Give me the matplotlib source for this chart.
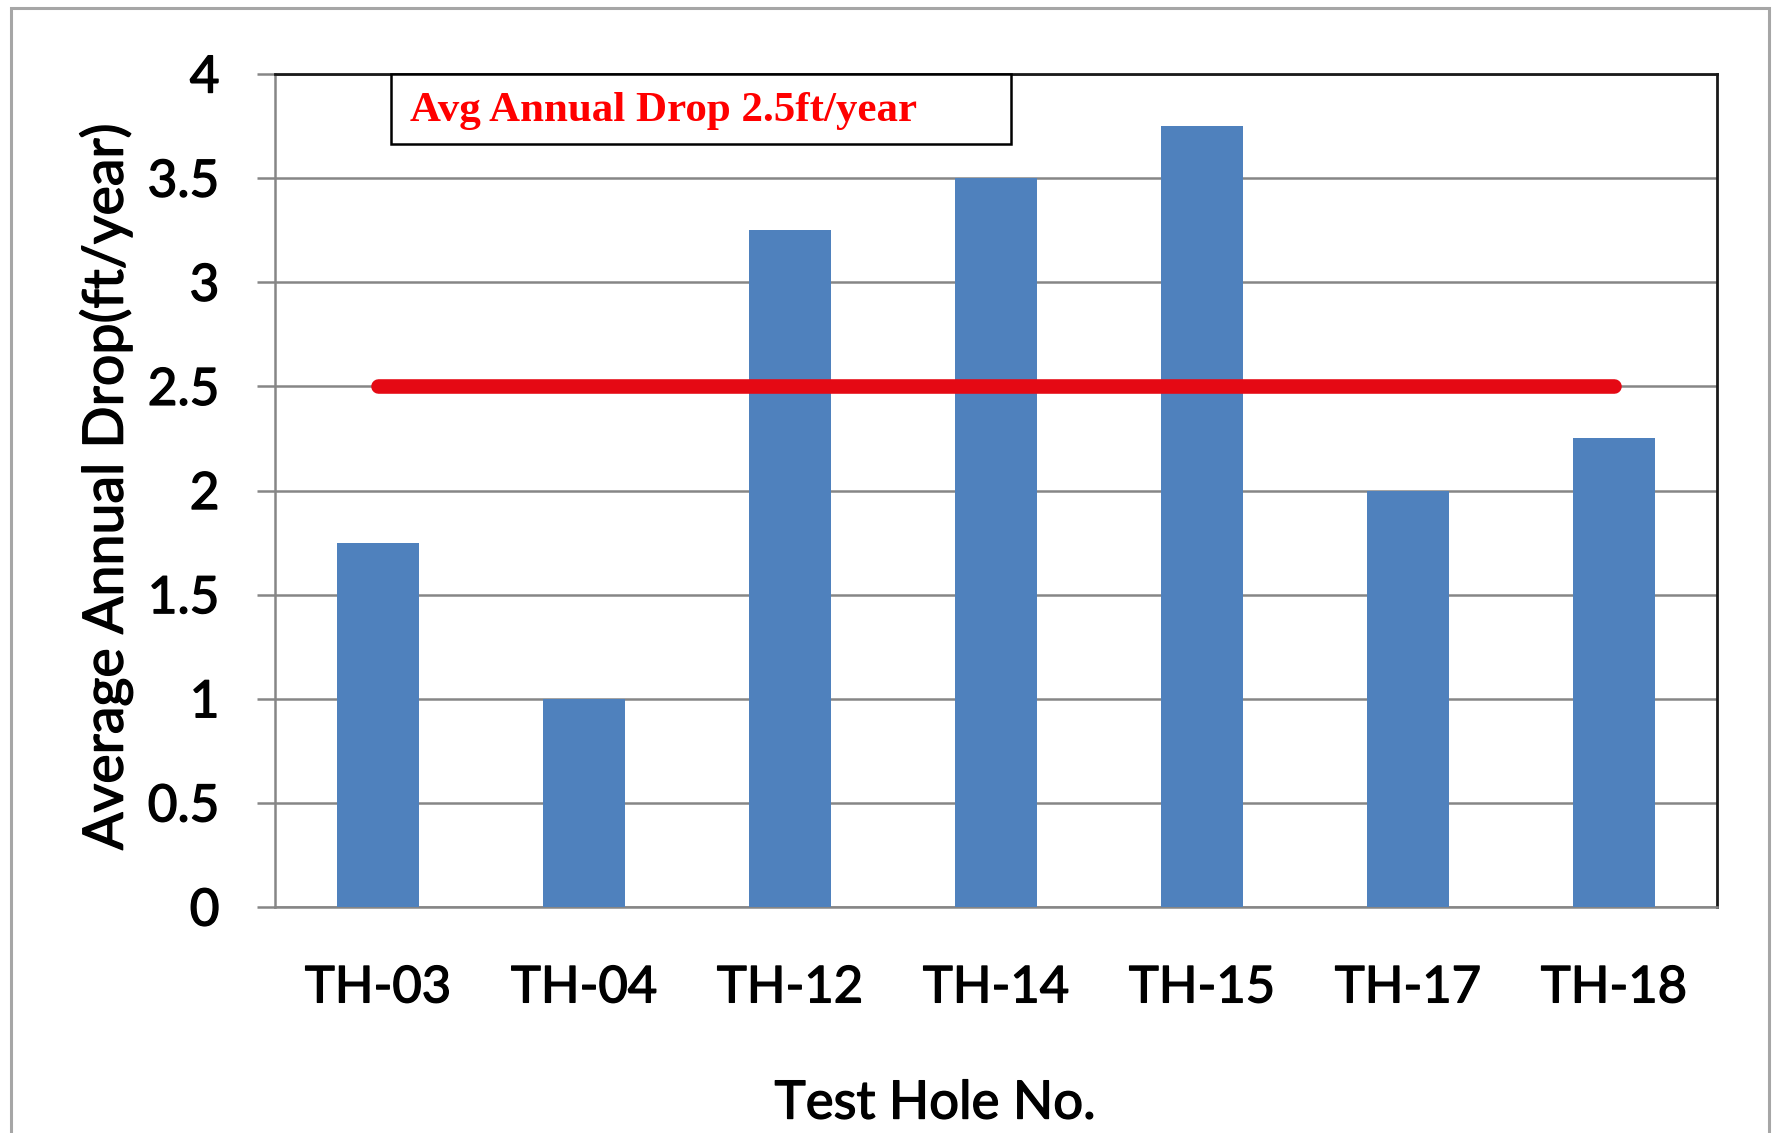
import matplotlib
matplotlib.use("Agg")
import matplotlib.pyplot as plt
import matplotlib.patheffects as pe
from matplotlib.patches import Rectangle

# Data
holes = ["TH-03", "TH-04", "TH-12", "TH-14", "TH-15", "TH-17", "TH-18"]
annual_drop = [1.75, 1.0, 3.25, 3.5, 3.75, 2.0, 2.25]
avg_drop = 2.5
y_ticks = [0, 0.5, 1, 1.5, 2, 2.5, 3, 3.5, 4]
y_tick_labels = ["0", "0.5", "1", "1.5", "2", "2.5", "3", "3.5", "4"]

W, H, DPI = 1775, 1133, 100
fig = plt.figure(figsize=(W / DPI, H / DPI), dpi=DPI, facecolor="white")

# Outer chart-area frame (open at the bottom edge)
fig.patches.append(Rectangle((11 / W, -0.05), (1769 - 11) / W, 1.05 - 8 / H,
                             transform=fig.transFigure, fill=False,
                             edgecolor="#a6a6a6", linewidth=2.2))

left, right, top, bottom = 275, 1717, 74, 907
ax = fig.add_axes([left / W, 1 - bottom / H, (right - left) / W, (bottom - top) / H])

sans = "Lato"
heavy = [pe.withStroke(linewidth=1.0, foreground="black")]
grid_col = "#868686"

x = list(range(len(holes)))
ax.bar(x, annual_drop, width=0.4, color="#4F81BD", zorder=3)
ax.plot([0, len(holes) - 1], [avg_drop, avg_drop], color="#E50914",
        linewidth=10.5, solid_capstyle="round", zorder=4)

ax.set_xlim(-0.5, len(holes) - 0.5)
ax.set_ylim(0, 4)
ax.set_yticks(y_ticks)
ax.set_yticklabels(y_tick_labels, fontfamily=sans, fontsize=37, path_effects=heavy)
ax.set_xticks(x)
ax.set_xticklabels(holes, fontfamily=sans, fontsize=36.5, path_effects=heavy)
ax.tick_params(axis="y", length=13, width=1.8, color=grid_col, pad=27)
ax.tick_params(axis="x", length=0, pad=42)

ax.yaxis.grid(True, color=grid_col, linewidth=1.8, zorder=1)
ax.set_axisbelow(True)

for s in ("top", "right"):
    ax.spines[s].set_color("#1a1a1a")
    ax.spines[s].set_linewidth(2.0)
for s in ("left", "bottom"):
    ax.spines[s].set_color(grid_col)
    ax.spines[s].set_linewidth(1.8)

fig.text(106 / W, 1 - 487 / H, "Average Annual Drop(ft/year)", rotation=90,
         ha="center", va="center", fontfamily=sans, fontsize=40, path_effects=heavy)
fig.text(935 / W, 1 - 1104 / H, "Test Hole No.", ha="center", va="center",
         fontfamily=sans, fontsize=38, path_effects=heavy)

# Annotation box for the average line
fig.patches.append(Rectangle((391 / W, 1 - 144 / H), (1011 - 391) / W, (144 - 74) / H,
                             transform=fig.transFigure, facecolor="white",
                             edgecolor="black", linewidth=1.8, zorder=5))
fig.text(410 / W, 1 - 111 / H, "Avg Annual Drop 2.5ft/year", ha="left", va="center",
         fontfamily="Liberation Serif", fontweight="bold", fontsize=31,
         color="#FF0000", zorder=6)

fig.savefig("out.png", dpi=DPI, facecolor="white")
